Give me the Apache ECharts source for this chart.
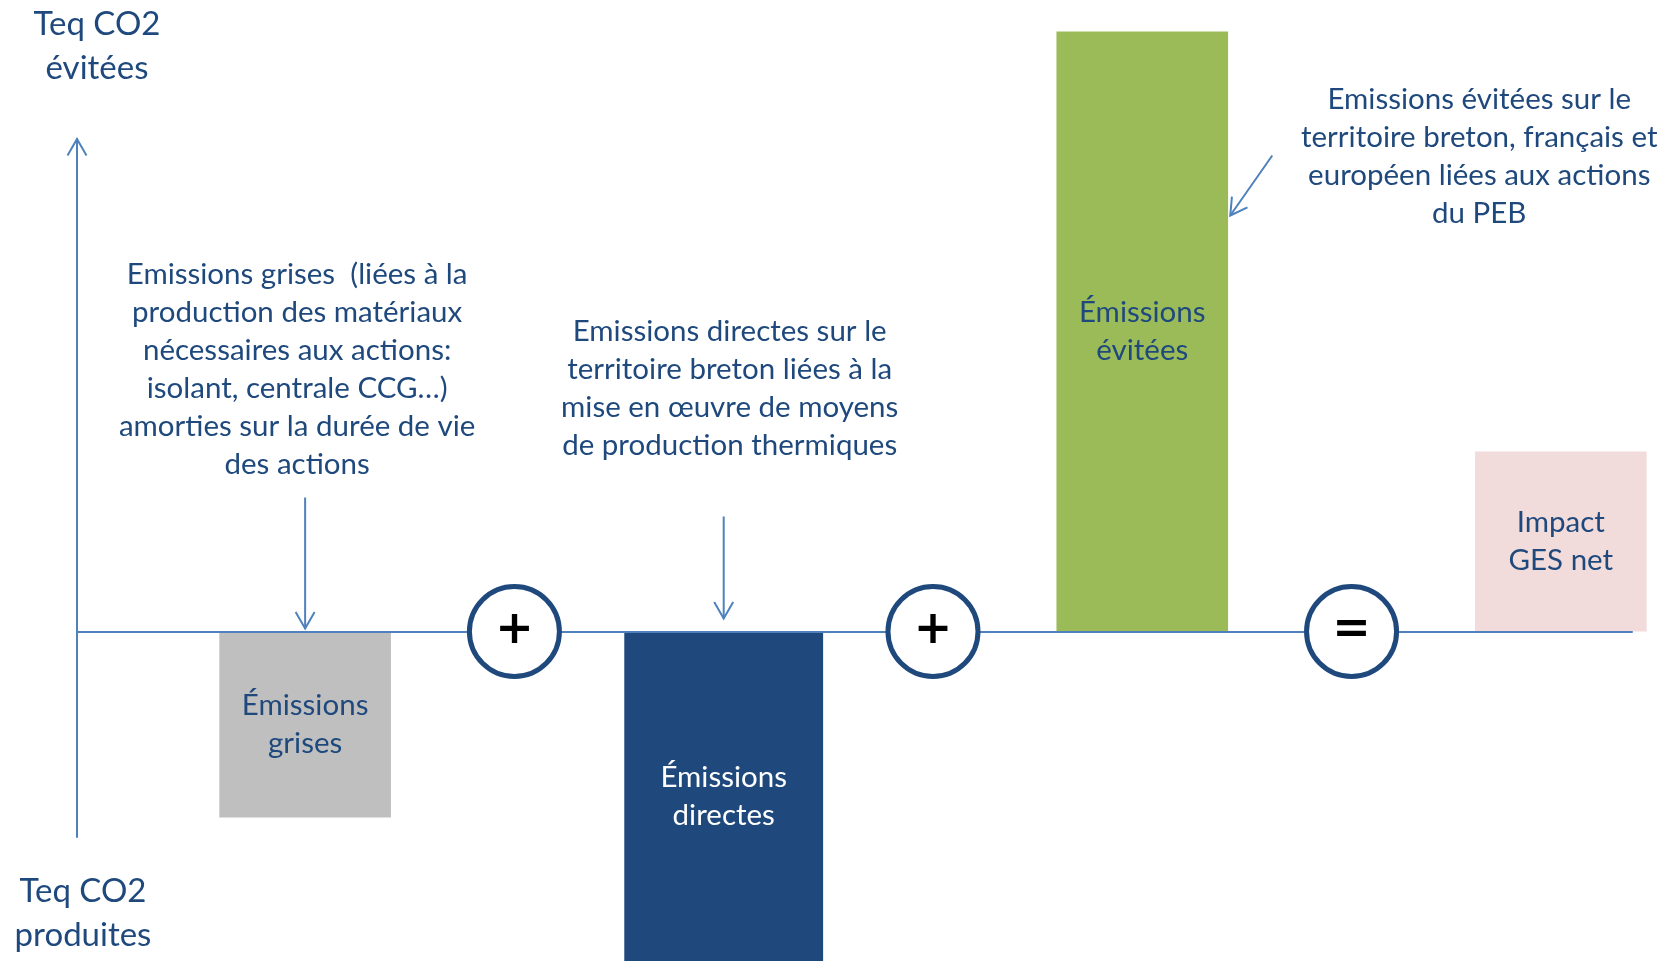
<!DOCTYPE html>
<html lang="fr">
<head>
<meta charset="utf-8">
<title>Impact GES net</title>
<script src="https://cdn.jsdelivr.net/npm/echarts@6/dist/echarts.min.js"></script>
<style>
  html, body { margin: 0; padding: 0; background: #fff; }
  #chart { width: 1680px; height: 961px; }
</style>
</head>
<body>
<div id="chart"></div>
<script>
// --- data (1 unit ~ 6 px) ---
const barLabels = ['Émissions\ngrises', 'Émissions\ndirectes', 'Émissions\névitées', 'Impact\nGES net'];
const barValues = [-31, -60, 100, 30];
const operators = ['+', '+', '='];
const notes = [
  'Emissions grises  (liées à la\nproduction des matériaux\nnécessaires aux actions:\nisolant, centrale CCG…)\namorties sur la durée de vie\ndes actions',
  'Emissions directes sur le\nterritoire breton liées à la\nmise en œuvre de moyens\nde production thermiques',
  'Emissions évitées sur le\nterritoire breton, français et\neuropéen liées aux actions\ndu PEB'
];
const axisNameTop = 'Teq CO2\névitées';
const axisNameBottom = 'Teq CO2\nproduites';

// --- styles ---
const FONT = 'Lato, "Open Sans", sans-serif';
const TEXT = '#1F497D';
const LINE = '#4F81BD';
const TEXT_SIZE = 29.5;
const barColors = ['#BFBFBF', '#1F497D', '#9BBB59', '#F2DCDB'];
const barTextColors = [TEXT, '#FFFFFF', TEXT, TEXT];
const barWidths = [0.82, 0.95, 0.82, 0.82]; // share of one slot
// where each note sits, in px from the foot of its bar (centre, baseline)
const noteLayout = [
  { bar: 0, dx: -8, dy: -262, from: [0, -134], to: [0, -3] },
  { bar: 1, dx: 6, dy: -243, from: [0, -115], to: [0, -13] },
  { bar: 2, dx: 337, dy: -475, from: [130, -476], to: [88, -416] }
];

const $ = (id) => document.getElementById(id);
const chart = echarts.init($('chart'));

const slotOf = (i) => i * 2; // bars on even slots, operators in between
const X_MIN = -1.09, X_MAX = 6.34, Y_MIN = -34.25, Y_MAX = 82.08;

const hidden = { axisTick: { show: false }, axisLabel: { show: false }, splitLine: { show: false } };
const nameStyle = { color: TEXT, fontFamily: FONT, fontSize: 33, lineHeight: 44 };

chart.setOption({
  animation: false,
  grid: { left: 77, right: 48, top: 139, bottom: 124, outerBoundsMode: 'none', containLabel: false },
  xAxis: Object.assign({
    type: 'value', min: X_MIN, max: X_MAX, z: 3,
    axisLine: { onZero: true, lineStyle: { color: LINE, width: 2 } }
  }, hidden),
  yAxis: [
    Object.assign({
      type: 'value', position: 'left', min: Y_MIN, max: Y_MAX,
      axisLine: { show: true, onZero: false, lineStyle: { color: LINE, width: 2 } },
      name: axisNameTop, nameLocation: 'end', nameGap: 49,
      nameTextStyle: Object.assign({ padding: [0, 0, 0, 40] }, nameStyle)
    }, hidden),
    Object.assign({
      type: 'value', position: 'left', offset: 0, min: Y_MIN, max: Y_MAX,
      axisLine: { show: false, onZero: false },
      name: axisNameBottom, nameLocation: 'start', nameGap: 32,
      nameTextStyle: Object.assign({ padding: [0, 0, 0, 12] }, nameStyle)
    }, hidden)
  ],
  series: [
    {
      type: 'custom',
      z: 2,
      clip: false,
      data: barValues.map((v, i) => [slotOf(i), v]),
      renderItem(params, api) {
        const i = params.dataIndex;
        const foot = api.coord([api.value(0), 0]);
        const head = api.coord([api.value(0), api.value(1)]);
        const w = api.size([barWidths[i], 0])[0];
        const shape = echarts.graphic.clipRectByRect(
          { x: foot[0] - w / 2, y: Math.min(foot[1], head[1]), width: w, height: Math.abs(head[1] - foot[1]) },
          { x: 0, y: 0, width: api.getWidth(), height: api.getHeight() }
        );
        return {
          type: 'rect',
          shape,
          style: { fill: barColors[i] },
          textContent: {
            style: { text: barLabels[i], fill: barTextColors[i], fontFamily: FONT, fontSize: TEXT_SIZE, lineHeight: 38 }
          },
          textConfig: { position: 'inside' }
        };
      }
    },
    {
      type: 'scatter',
      z: 4,
      symbol: 'circle',
      symbolSize: 90,
      data: operators.map((op, k) => [slotOf(k) + 1, 0]),
      itemStyle: { color: '#FFFFFF', borderColor: TEXT, borderWidth: 5, opacity: 1 },
      label: {
        show: true, position: 'inside',
        formatter: (p) => operators[p.dataIndex],
        color: '#000', fontFamily: 'DejaVu Sans', fontWeight: 'bold', fontSize: 46
      },
      emphasis: { disabled: true }
    }
  ]
});

// annotations + arrow heads, placed from the axes' own scales
const px = (x, y) => chart.convertToPixel({ gridIndex: 0 }, [x, y]);

function arrowHead(from, to, len = 19, spread = Math.PI / 6) {
  const a = Math.atan2(from[1] - to[1], from[0] - to[0]);
  return [
    [to[0] + len * Math.cos(a + spread), to[1] + len * Math.sin(a + spread)],
    to,
    [to[0] + len * Math.cos(a - spread), to[1] + len * Math.sin(a - spread)]
  ];
}

const stroke = { stroke: LINE, lineWidth: 2, fill: null };
const graphics = [];

const axisTop = px(X_MIN, Y_MAX), axisBottom = px(X_MIN, Y_MIN);
graphics.push({ type: 'polyline', z: 5, shape: { points: arrowHead(axisBottom, axisTop) }, style: stroke });

noteLayout.forEach((n, k) => {
  const foot = px(slotOf(n.bar), 0);
  const from = [foot[0] + n.from[0], foot[1] + n.from[1]];
  const to = [foot[0] + n.to[0], foot[1] + n.to[1]];
  graphics.push({
    type: 'text', z: 5, x: foot[0] + n.dx, y: foot[1] + n.dy,
    style: {
      text: notes[k], fill: TEXT, fontFamily: FONT, fontSize: TEXT_SIZE, lineHeight: 38,
      align: 'center', verticalAlign: 'middle', textAlign: 'center', textVerticalAlign: 'middle'
    }
  });
  graphics.push({ type: 'polyline', z: 5, shape: { points: [from, to] }, style: stroke });
  graphics.push({ type: 'polyline', z: 5, shape: { points: arrowHead(from, to) }, style: stroke });
});

chart.setOption({ graphic: graphics });
</script>
</body>
</html>
